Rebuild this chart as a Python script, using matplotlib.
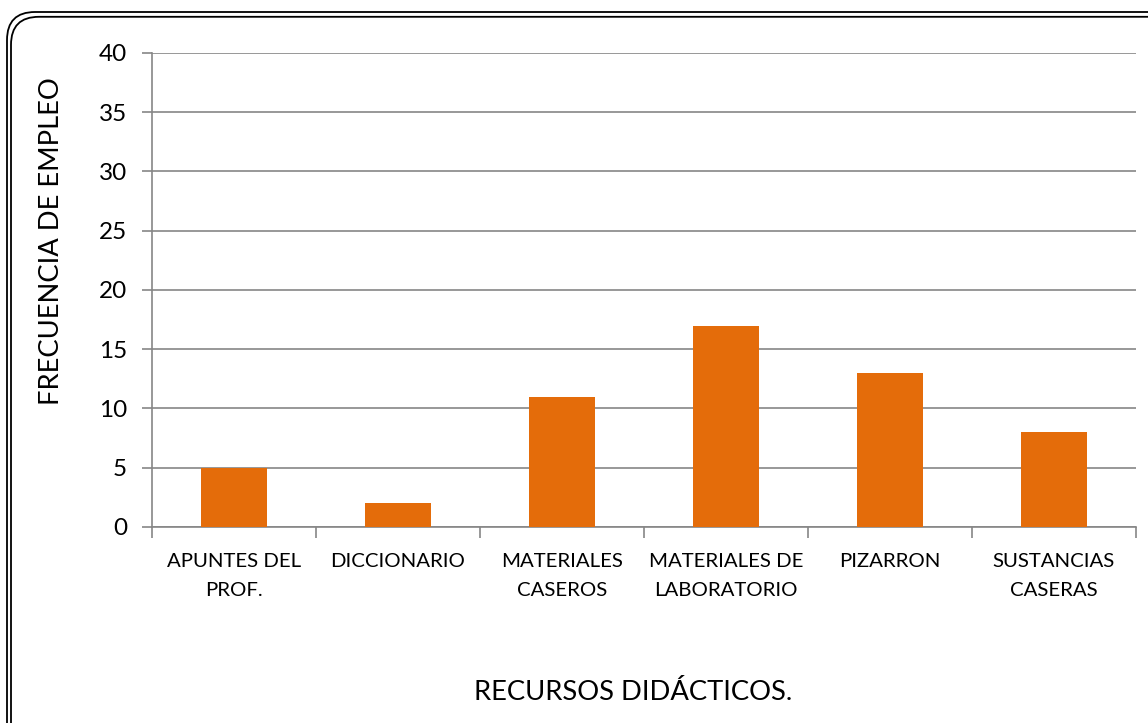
import matplotlib.pyplot as plt
from matplotlib.patches import FancyBboxPatch

categorias = ['APUNTES DEL\nPROF.', 'DICCIONARIO', 'MATERIALES\nCASEROS',
              'MATERIALES DE\nLABORATORIO', 'PIZARRON', 'SUSTANCIAS\nCASERAS']
frecuencias = [5, 2, 11, 17, 13, 8]
y_ticks = [0, 5, 10, 15, 20, 25, 30, 35, 40]

plt.rcParams['font.family'] = ['Lato', 'DejaVu Sans']

fig = plt.figure(figsize=(11.48, 7.23), dpi=100)
ax = fig.add_axes([0.1324, 0.2711, 0.857, 0.6556])

x = list(range(len(categorias)))
ax.bar(x, frecuencias, width=0.4, color='#E46C0A', zorder=3)

ax.set_xlim(-0.5, len(categorias) - 0.5)
ax.set_ylim(0, 40)
ax.set_yticks(y_ticks)
ax.tick_params(axis='y', labelsize=17.5, length=7, width=1.2, color='#868686', pad=11)
ax.set_xticks(x)
ax.set_xticklabels(categorias, fontsize=14.7, linespacing=1.85)
ax.tick_params(axis='x', which='major', length=0, pad=19)
ax.set_xticks([i + 0.5 for i in range(-1, len(categorias))], minor=True)
ax.tick_params(axis='x', which='minor', length=8, width=1.2, color='#868686')

ax.grid(axis='y', color='#868686', linewidth=1.2, zorder=0)
for s in ['top', 'right']:
    ax.spines[s].set_visible(False)
for s in ['left', 'bottom']:
    ax.spines[s].set_color('#868686')
    ax.spines[s].set_linewidth(1.2)

fig.text(52 / 1148, 1 - 241 / 723, 'FRECUENCIA DE EMPLEO', rotation=90, fontsize=19.7,
         ha='center', va='center')
fig.text(633 / 1148, 1 - 692 / 723, 'RECURSOS DIDÁCTICOS.', fontsize=19.7,
         ha='center', va='center')

# marco doble redondeado
for off in [7, 11]:
    box = FancyBboxPatch((off, -30), 1200, 723 - off - 5 + 30 - (off - 7) * 0.2,
                         boxstyle='round,pad=0,rounding_size=28',
                         transform=None, fill=False, edgecolor='black',
                         linewidth=1.3, clip_on=False)
    fig.patches.append(box)

fig.savefig('out.png', dpi=100)
